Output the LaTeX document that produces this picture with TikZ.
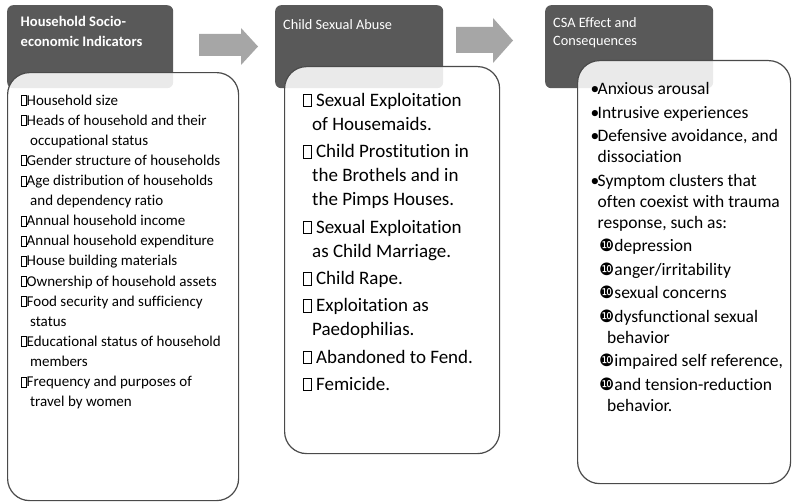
\documentclass[tikz,border=0pt]{standalone}
\usepackage{fontspec}
\setmainfont[Ligatures=NoCommon]{Carlito}
\newfontfamily\dejavu{DejaVu Sans}
\definecolor{hdrgray}{HTML}{595959}
\definecolor{arrgray}{HTML}{A6A6A6}
\definecolor{edgegray}{HTML}{4A4A4A}
\newcommand{\sqa}{{\setlength\fboxsep{0pt}\setlength\fboxrule{0.55pt}\fbox{\rule{0pt}{9.5pt}\hspace{4.4pt}}}}
\newcommand{\sqb}{{\setlength\fboxsep{0pt}\setlength\fboxrule{0.6pt}\fbox{\rule{0pt}{12pt}\hspace{7.4pt}}}}
\newcommand{\tn}{{\dejavu\fontsize{17}{17}\selectfont ❿}}
\newcommand{\bul}{\makebox[5.5pt][c]{•}}
\begin{document}
\begin{tikzpicture}[x=1pt,y=-1pt,
  hdrbox/.style={fill=hdrgray, rounded corners=6pt, inner sep=0pt, anchor=north west},
  listbox/.style={fill=white, fill opacity=0.88, draw=edgegray, draw opacity=1, line width=1.2pt, rounded corners=22pt, inner sep=0pt, anchor=north west},
  hdrtext/.style={text=white, align=left, inner sep=0pt, anchor=north west, font=\fontsize{14.3}{19}\selectfont},
  listtext/.style={text=black, align=left, inner sep=0pt, anchor=north west},
  blockarrow/.style={fill=arrgray}]
\useasboundingbox (0,0) rectangle (792,503);

% headers
\node[hdrbox, minimum width=166pt, minimum height=83pt] (h1) at (7,5) {};
\node[hdrbox, minimum width=168pt, minimum height=83pt] (h2) at (275,5) {};
\node[hdrbox, minimum width=168pt, minimum height=83pt] (h3) at (545,5) {};

% block arrows
\fill[blockarrow] (199,34) -- (241,34) -- (241,28) -- (258,46.5) -- (241,65) -- (241,56) -- (199,56) -- cycle;
\fill[blockarrow] (456,27) -- (493,27) -- (493,18) -- (513,40.5) -- (493,63) -- (493,53) -- (456,53) -- cycle;

% list boxes
\node[listbox, minimum width=231pt, minimum height=428pt] (b1) at (7,72) {};
\node[listbox, minimum width=215pt, minimum height=387pt] (b2) at (284,66) {};
\node[listbox, minimum width=213pt, minimum height=423pt] (b3) at (577,60) {};

% header texts
\node[hdrtext, font=\bfseries\fontsize{14.6}{20}\selectfont] (t1) at (20.5,12.5) {\strut Household Socio-\\economic Indicators};
\node[hdrtext] (t2) at (283,16.2) {\strut Child Sexual Abuse};
\node[hdrtext, font=\fontsize{14.3}{18}\selectfont] (t3) at (553,14.8) {\strut CSA Effect and\\Consequences};

% list texts
\node[listtext, font=\fontsize{15}{20.1}\selectfont] (l1) at (21,90.9) {\strut\sqa Household size\\
\sqa Heads of household and their\\
\hspace*{9pt}occupational status\\
\sqa Gender structure of households\\
\sqa Age distribution of households\\
\hspace*{9pt}and dependency ratio\\
\sqa Annual household income\\
\sqa Annual household expenditure\\
\sqa House building materials\\
\sqa Ownership of household assets\\
\sqa Food security and sufficiency\\
\hspace*{9pt}status\\
\sqa Educational status of household\\
\hspace*{9pt}members\\
\sqa Frequency and purposes of\\
\hspace*{9pt}travel by women};

\node[listtext, font=\fontsize{19}{24.2}\selectfont] (l2) at (303,89) {\strut\sqb\ Sexual Exploitation\\
\hspace*{9pt}of Housemaids.\\[3pt]
\sqb\ Child Prostitution in\\
\hspace*{9pt}the Brothels and in\\
\hspace*{9pt}the Pimps Houses.\\[3pt]
\sqb\ Sexual Exploitation\\
\hspace*{9pt}as Child Marriage.\\[3pt]
\sqb\ Child Rape.\\[3pt]
\sqb\ Exploitation as\\
\hspace*{9pt}Paedophilias.\\[3pt]
\sqb\ Abandoned to Fend.\\[3pt]
\sqb\ Femicide.};

\node[listtext, font=\fontsize{17.5}{21}\selectfont] (l3) at (592,80) {\strut\bul Anxious arousal\\[2.5pt]
\bul Intrusive experiences\\[2.5pt]
\bul Defensive avoidance, and\\
\hspace*{5.5pt}dissociation\\[2.5pt]
\bul Symptom clusters that\\
\hspace*{5.5pt}often coexist with trauma\\
\hspace*{5.5pt}response, such as:\\[2.5pt]
\hspace*{7pt}\tn depression\\[2.5pt]
\hspace*{7pt}\tn anger/irritability\\[2.5pt]
\hspace*{7pt}\tn sexual concerns\\[2.5pt]
\hspace*{7pt}\tn dysfunctional sexual\\
\hspace*{15pt}behavior\\[2.5pt]
\hspace*{7pt}\tn impaired self reference,\\[2.5pt]
\hspace*{7pt}\tn and tension-reduction\\
\hspace*{15pt}behavior.};
\end{tikzpicture}
\end{document}
